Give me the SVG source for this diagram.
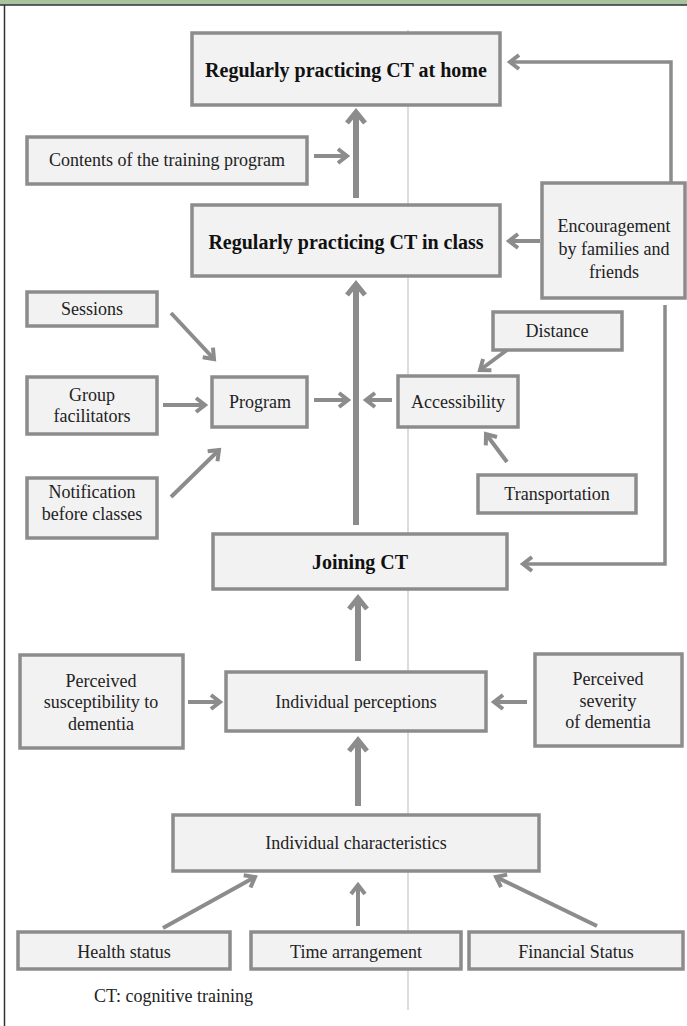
<svg xmlns="http://www.w3.org/2000/svg" width="687" height="1026" viewBox="0 0 687 1026">
<style>
.box{fill:#f2f2f2;stroke:#8c8c8c;stroke-width:3.5}
.t{font-family:"Liberation Serif","Times New Roman",serif;font-size:18px;fill:#222;text-anchor:middle}
.b{font-weight:bold;font-size:20px;fill:#111}
.c{fill:none;stroke:#8c8c8c}
.thick{stroke-width:6}
.med{stroke-width:4}
.thin{stroke-width:3.5}
</style>
<defs>
<marker id="ahL" viewBox="-16 -12 20 24" markerWidth="20" markerHeight="24" refX="0" refY="0" orient="auto" markerUnits="userSpaceOnUse" style="overflow:visible">
<path d="M-11,-9 L0,0 L-11,9" fill="none" stroke="#8c8c8c" stroke-width="5"/>
</marker>
<marker id="ahM" viewBox="-14 -10 18 20" markerWidth="18" markerHeight="20" refX="0" refY="0" orient="auto" markerUnits="userSpaceOnUse" style="overflow:visible">
<path d="M-9,-7 L0,0 L-9,7" fill="none" stroke="#8c8c8c" stroke-width="4"/>
</marker>
</defs>
<rect x="0" y="0" width="687" height="1026" fill="#ffffff"/>
<rect x="0" y="0" width="687" height="5" fill="#a9c2a0"/>
<line x1="0" y1="5" x2="687" y2="5" stroke="#333" stroke-width="1.5"/>
<line x1="4.5" y1="5" x2="4.5" y2="1026" stroke="#333" stroke-width="1.5"/>
<line x1="408" y1="30" x2="408" y2="1010" stroke="#bbb" stroke-width="1"/>

<g id="connectors">
<line class="c thick" x1="356" y1="198" x2="356" y2="112" marker-end="url(#ahL)"/>
<line class="c med" x1="314" y1="156" x2="347" y2="156" marker-end="url(#ahM)"/>
<polyline class="c thin" points="671,183 671,62 510,62" marker-end="url(#ahM)"/>
<line class="c med" x1="540" y1="241" x2="509" y2="241" marker-end="url(#ahM)"/>
<polyline class="c thin" points="665,305 665,564 523,564" marker-end="url(#ahM)"/>
<line class="c thick" x1="356" y1="525" x2="356" y2="284" marker-end="url(#ahL)"/>
<line class="c med" x1="171" y1="313" x2="214" y2="359" marker-end="url(#ahM)"/>
<line class="c med" x1="163" y1="405" x2="205" y2="405" marker-end="url(#ahM)"/>
<line class="c med" x1="171" y1="497" x2="219" y2="450" marker-end="url(#ahM)"/>
<line class="c med" x1="314" y1="400" x2="348" y2="400" marker-end="url(#ahM)"/>
<line class="c med" x1="392" y1="400" x2="366" y2="400" marker-end="url(#ahM)"/>
<line class="c med" x1="507" y1="350" x2="480" y2="370" marker-end="url(#ahM)"/>
<line class="c med" x1="507" y1="462" x2="486" y2="434" marker-end="url(#ahM)"/>
<line class="c thick" x1="358" y1="661" x2="358" y2="598" marker-end="url(#ahL)"/>
<line class="c med" x1="188" y1="702" x2="220" y2="702" marker-end="url(#ahM)"/>
<line class="c med" x1="527" y1="702" x2="494" y2="702" marker-end="url(#ahM)"/>
<line class="c thick" x1="358" y1="806" x2="358" y2="740" marker-end="url(#ahL)"/>
<line class="c med" x1="163" y1="928" x2="255" y2="877" marker-end="url(#ahM)"/>
<line class="c med" x1="358" y1="926" x2="358" y2="885" marker-end="url(#ahM)"/>
<line class="c med" x1="597" y1="926" x2="496" y2="877" marker-end="url(#ahM)"/>
</g>

<g id="home"><rect class="box" x="192" y="33" width="308" height="72"/><text class="t b" x="346" y="77">Regularly practicing CT at home</text></g>
<g id="contents"><rect class="box" x="27" y="137" width="280" height="47"/><text class="t" x="167" y="166">Contents of the training program</text></g>
<g id="inclass"><rect class="box" x="192" y="205" width="308" height="71"/><text class="t b" x="346" y="249">Regularly practicing CT in class</text></g>
<g id="encouragement"><rect class="box" x="542" y="183" width="143" height="115"/><text class="t" x="614" y="232">Encouragement</text><text class="t" x="614" y="255">by families and</text><text class="t" x="614" y="278">friends</text></g>
<g id="sessions"><rect class="box" x="27" y="292" width="130" height="34"/><text class="t" x="92" y="315">Sessions</text></g>
<g id="distance"><rect class="box" x="493" y="312" width="129" height="38"/><text class="t" x="557" y="337">Distance</text></g>
<g id="facilitators"><rect class="box" x="27" y="377" width="130" height="57"/><text class="t" x="92" y="401">Group</text><text class="t" x="92" y="422">facilitators</text></g>
<g id="program"><rect class="box" x="212" y="377" width="95" height="50"/><text class="t" x="260" y="408">Program</text></g>
<g id="accessibility"><rect class="box" x="398" y="376" width="120" height="51"/><text class="t" x="458" y="408">Accessibility</text></g>
<g id="notification"><rect class="box" x="27" y="478" width="130" height="60"/><text class="t" x="92" y="498">Notification</text><text class="t" x="92" y="520">before classes</text></g>
<g id="transportation"><rect class="box" x="478" y="475" width="158" height="38"/><text class="t" x="557" y="500">Transportation</text></g>
<g id="joining"><rect class="box" x="213" y="534" width="294" height="55"/><text class="t b" x="360" y="569">Joining CT</text></g>
<g id="susceptibility"><rect class="box" x="20" y="655" width="163" height="93"/><text class="t" x="101" y="687">Perceived</text><text class="t" x="101" y="708">susceptibility to</text><text class="t" x="101" y="730">dementia</text></g>
<g id="perceptions"><rect class="box" x="226" y="672" width="260" height="59"/><text class="t" x="356" y="708">Individual perceptions</text></g>
<g id="severity"><rect class="box" x="535" y="654" width="147" height="92"/><text class="t" x="608" y="685">Perceived</text><text class="t" x="608" y="707">severity</text><text class="t" x="608" y="728">of dementia</text></g>
<g id="characteristics"><rect class="box" x="173" y="815" width="366" height="56"/><text class="t" x="356" y="849">Individual characteristics</text></g>
<g id="health"><rect class="box" x="18" y="932" width="212" height="37"/><text class="t" x="124" y="958">Health status</text></g>
<g id="time"><rect class="box" x="251" y="932" width="210" height="37"/><text class="t" x="356" y="958">Time arrangement</text></g>
<g id="financial"><rect class="box" x="469" y="932" width="214" height="37"/><text class="t" x="576" y="958">Financial Status</text></g>
<text class="t" x="94" y="1002" style="text-anchor:start">CT: cognitive training</text>
</svg>
